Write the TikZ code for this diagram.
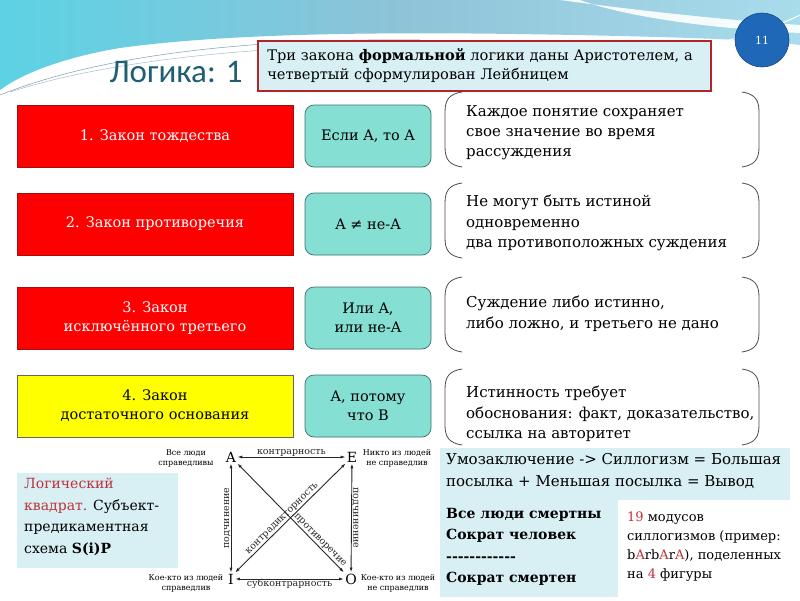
\documentclass[tikz,border=0pt]{standalone}
\usepackage{fontspec}
\setmainfont{DejaVu Serif}
\newfontfamily\titlefont{Carlito}
\usetikzlibrary{arrows.meta}
\definecolor{lawred}{HTML}{FF0000}
\definecolor{lawredline}{HTML}{A01010}
\definecolor{lawyellow}{HTML}{FFFF00}
\definecolor{tealfill}{HTML}{86DFD3}
\definecolor{tealline}{HTML}{3F6F6A}
\definecolor{paleblue}{HTML}{D8EFF4}
\definecolor{notered}{HTML}{B0252A}
\definecolor{titleblue}{HTML}{1F5E73}
\definecolor{circblue}{HTML}{1F68B8}
\definecolor{textred}{HTML}{C0303A}
\definecolor{wave1}{HTML}{5CD2E4}
\definecolor{wave2}{HTML}{8EC3D8}
\definecolor{wave3}{HTML}{A9DCEB}
\tikzset{
  lawbox/.style={draw=lawredline, line width=0.6pt, fill=lawred, minimum width=276pt, minimum height=62pt, text=white, font=\fontsize{14.5}{19}\selectfont, align=center, inner sep=0pt},
  yellowbox/.style={lawbox, fill=lawyellow, draw=black!60, text=black},
  formbox/.style={draw=tealline, line width=0.7pt, fill=tealfill, rounded corners=9pt, minimum width=126pt, minimum height=62pt, font=\fontsize{14.5}{19}\selectfont, align=center, inner sep=0pt},
  desc/.style={anchor=north west, align=left, font=\fontsize{15}{20.3}\selectfont, inner sep=0pt},
  bracket/.style={draw=black!70, line width=0.8pt},
  sqlabel/.style={font=\fontsize{9.5}{11}\selectfont, align=center, inner sep=1pt},
  cornerlabel/.style={font=\fontsize{8}{10}\selectfont, align=center, inner sep=1pt},
  sqletter/.style={font=\fontsize{14}{16}\selectfont, inner sep=1pt},
  sqarrow/.style={{Latex[length=5pt,width=3pt]}-{Latex[length=5pt,width=3pt]}, line width=0.9pt, black!85},
  panel/.style={fill=paleblue, draw=none},
}
\newcommand\dashrow{-\kern0pt-\kern0pt-\kern0pt-\kern0pt-\kern0pt-\kern0pt-\kern0pt-\kern0pt-\kern0pt-\kern0pt-\kern0pt-}
\newcommand\redA{\textcolor{textred}{A}}
\begin{document}
\begin{tikzpicture}[x=1pt,y=-1pt]
\useasboundingbox (0,0) rectangle (800,600);
\fill[white] (0,0) rectangle (800,600);
% background wave
\shade[left color=wave1, right color=wave3, middle color=wave2]
  (0,0) -- (800,0) -- (800,45) .. controls (760,40) and (700,38) .. (620,36)
  .. controls (450,32) and (250,30) .. (120,48) .. controls (60,58) and (20,75) .. (0,90) -- cycle;
\fill[white, opacity=0.9] (560,0) .. controls (620,8) and (700,18) .. (800,25) -- (800,33)
  .. controls (700,28) and (620,15) .. (580,0) -- cycle;
\draw[titleblue!60, line width=0.5pt] (0,95) .. controls (100,55) and (250,38) .. (420,40);
\draw[titleblue!40, line width=0.5pt] (10,92) .. controls (110,60) and (260,44) .. (440,45);
\draw[white, line width=1pt] (660,55) .. controls (720,45) and (770,30) .. (800,15);
% title
\node[font=\titlefont\fontsize{33}{36}\selectfont, text=titleblue, anchor=base] (title) at (176,82) {Логика: 1};
% note
\node[draw=notered, line width=1.6pt, fill=paleblue, anchor=north west, minimum width=453pt, minimum height=50pt, text width=446pt, align=left, inner sep=0pt, font=\fontsize{14.6}{19}\selectfont] (note) at (257,40) {\hspace*{6pt}Три закона \textbf{формальной} логики даны Аристотелем, а\\\hspace*{6pt}четвертый сформулирован Лейбницем};
% page circle
\node[circle, fill=circblue, draw=circblue!70!black, line width=0.6pt, minimum size=54pt, text=white, font=\fontsize{11}{12}\selectfont] (page) at (762,40) {11};
% rows
\node[lawbox] (law1) at (155,136) {1. Закон тождества};
\node[formbox] (f1) at (368,136) {Если A, то A};
\node[lawbox] (law2) at (155,224) {2. Закон противоречия};
\node[formbox] (f2) at (368,224) {A ≠ не-A};
\node[lawbox] (law3) at (155,318) {3. Закон\\исключённого третьего};
\node[formbox] (f3) at (368,318) {Или A,\\или не-A};
\node[yellowbox] (law4) at (155,406) {4. Закон\\достаточного основания};
\node[formbox] (f4) at (368,406) {A, потому\\что B};
% brackets
\foreach \ya/\yb in {92/167, 183/258, 277/352, 369/445}{
  \draw[bracket] (462,\ya) .. controls (449,\ya+2) and (445,\ya+8) .. (445,\ya+20) -- (445,\yb-20) .. controls (445,\yb-8) and (449,\yb-2) .. (462,\yb);
  \draw[bracket] (742,\ya) .. controls (755,\ya+2) and (759,\ya+8) .. (759,\ya+20) -- (759,\yb-20) .. controls (759,\yb-8) and (755,\yb-2) .. (742,\yb);
}
\node[desc] (d1) at (466,105) {Каждое понятие сохраняет\\свое значение во время\\рассуждения};
\node[desc] (d2) at (466,195) {Не могут быть истиной\\одновременно\\два противоположных суждения};
\node[desc] (d3) at (466,296) {Суждение либо истинно,\\либо ложно, и третьего не дано};
\node[desc] (d4) at (466,386) {Истинность требует\\обоснования: факт, доказательство,\\ссылка на авторитет};
% logical square panel
\fill[panel] (17,473) rectangle (178,568);
\node[anchor=north west, align=left, inner sep=0pt, font=\fontsize{14}{21.5}\selectfont] (sqtext) at (24,478) {\textcolor{textred}{Логический}\\\textcolor{textred}{квадрат.} Субъект-\\предикаментная\\схема \textbf{S(i)P}};
% square
\node[sqletter] (A) at (231,457) {A};
\node[sqletter] (E) at (352,457) {E};
\node[sqletter] (I) at (231,579) {I};
\node[sqletter] (O) at (351,579) {O};
\draw[sqarrow] (A) -- node[sqlabel, above, yshift=-1pt] {контрарность} (E);
\draw[sqarrow] (I) -- node[sqlabel, below, yshift=1pt] {субконтрарность} (O);
\draw[sqarrow] (A) -- node[sqlabel, rotate=90, above, yshift=-1pt] {подчинение} (I);
\draw[sqarrow] (E) -- node[sqlabel, rotate=-90, above, yshift=-1pt] {подчинение} (O);
\draw[sqarrow] (A.south east) -- node[sqlabel, sloped, above, pos=0.74] {противоречие} (O.north west);
\draw[sqarrow] (I.north east) -- node[sqlabel, sloped, above, pos=0.46] {контрадикторность} (E.south west);
\node[cornerlabel] (la) at (186,458) {Все люди\\справедливы};
\node[cornerlabel] (le) at (397,458) {Никто из людей\\не справедлив};
\node[cornerlabel] (li) at (186,583) {Кое-кто из людей\\справедлив};
\node[cornerlabel] (lo) at (398,583) {Кое-кто из людей\\не справедлив};
% syllogism
\fill[panel] (440,448) rectangle (790,500);
\node[anchor=north west, align=left, inner sep=0pt, font=\fontsize{15}{22}\selectfont] (syl) at (446,453) {Умозаключение -> Силлогизм = Большая\\посылка + Меньшая посылка = Вывод};
\fill[panel] (440,500) rectangle (618,597);
\node[anchor=north west, align=left, inner sep=0pt, font=\bfseries\fontsize{14}{21.5}\selectfont] (ex) at (446,508) {Все люди смертны\\Сократ человек\\\dashrow\\Сократ смертен};
\node[anchor=north west, align=left, inner sep=0pt, font=\fontsize{13}{19}\selectfont] (modes) at (627,512) {\textcolor{textred}{19} модусов\\силлогизмов (пример:\\b\redA rb\redA r\redA), поделенных\\на \textcolor{textred}{4} фигуры};
\end{tikzpicture}
\end{document}
